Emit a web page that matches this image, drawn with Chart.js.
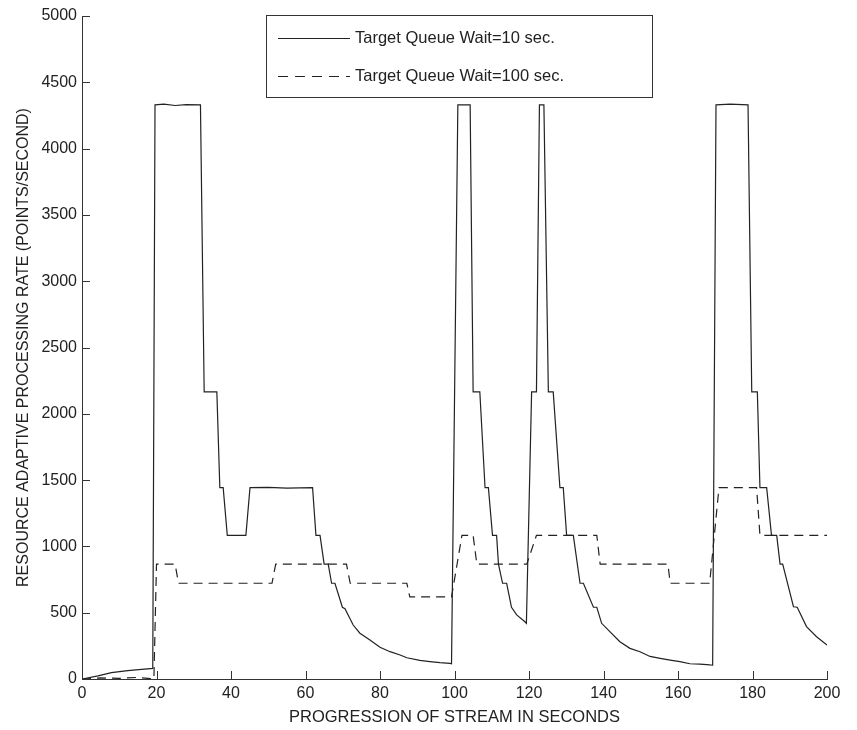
<!DOCTYPE html>
<html><head><meta charset="utf-8">
<script src="https://cdn.jsdelivr.net/npm/chart.js@4.4.1/dist/chart.umd.min.js"></script>
<style>html,body{margin:0;padding:0;background:#fff;}#wrap{width:857px;height:730px;}</style>
</head><body><div id="wrap"><canvas id="c" width="857" height="730"></canvas></div>
<script>
// Series: Target Queue Wait = 10 sec (solid)
const timeS10 = [0, 4.3, 7.9, 12.3, 16, 19.0, 19.6, 22, 25, 28, 31.8, 32.8, 36.2, 37.0, 37.9, 39.0, 44.0, 45.1, 50, 55, 61.9, 62.8, 63.9, 65.0, 66.1, 67.0, 67.9, 69.9, 70.6, 72.8, 74.6, 77.3, 80, 82.7, 85.4, 87.2, 90.7, 93.4, 96.1, 98.8, 99.2,
  100.9, 104.2, 105.0, 106.8, 108.2, 109.1, 110.2, 111.3, 111.8, 112.9, 114.0, 115.3, 116.7, 118.9, 119.3, 120.7, 122.0, 122.8, 124.0, 125.2, 126.5, 128.3, 129.2, 130.1, 131.9, 133.7, 134.6, 137.3, 138.2,
  139.5, 141.7, 144.4, 147.1, 149.8, 152.5, 155.2, 157.9, 160.5, 163.2, 165.9, 168.6, 169.3, 170.2, 174, 178.8, 179.8, 181.3, 182.0, 183.8, 185.1, 186.5, 187.4, 188.1, 191.0, 192.0, 194.5, 197.2, 200];
const rate10 = [0, 23, 48, 63, 72, 80, 4330, 4335, 4325, 4332, 4330, 2165, 2165, 1443, 1443, 1083, 1083, 1443, 1445, 1440, 1443, 1083, 1083, 866, 866, 722, 722, 541, 530, 407, 345, 294, 239, 206, 181, 160, 140, 131, 123, 118, 115,
  4330, 4330, 2165, 2165, 1443, 1443, 1083, 1083, 866, 722, 722, 541, 483, 432, 420, 2165, 2165, 4330, 4330, 2165, 2165, 1443, 1443, 1083, 1083, 722, 722, 541, 541,
  420, 357, 281, 231, 206, 170, 156, 143, 131, 115, 112, 106, 105, 4330, 4335, 4330, 2165, 2165, 1443, 1443, 1083, 1083, 866, 866, 545, 541, 395, 319, 256];
// Series: Target Queue Wait = 100 sec (dashed)
const timeS100 = [0, 5, 10, 15, 19.3, 20.0, 25.0, 25.9, 51.0, 52.0, 71.0, 72.0, 87.2, 88.0, 99.2, 102.0, 105.0, 106.0, 119.4, 122.0, 138.2, 139.1, 157.3, 157.9, 168.5, 171.0, 181.1, 182.0, 200];
const rate100 = [0, 8, 5, 12, 0, 866, 866, 722, 722, 866, 866, 722, 722, 619, 619, 1083, 1083, 866, 866, 1083, 1083, 866, 866, 722, 722, 1443, 1443, 1083, 1083];

const seriesLabels = ['Target Queue Wait=10 sec.', 'Target Queue Wait=100 sec.'];
const xTickValues = [0, 20, 40, 60, 80, 100, 120, 140, 160, 180, 200];
const yTickValues = [0, 500, 1000, 1500, 2000, 2500, 3000, 3500, 4000, 4500, 5000];
const xTitle = 'PROGRESSION OF STREAM IN SECONDS';
const yTitle = 'RESOURCE ADAPTIVE PROCESSING RATE (POINTS/SECOND)';

const FONT = 'Liberation Sans, Arial, Helvetica, sans-serif';
const INK = '#222';

const pts = (xs, ys) => xs.map((x, i) => ({x: x, y: ys[i]}));

const innerTicks = {
  id: 'innerTicks',
  afterDraw(chart) {
    const {ctx, chartArea: ca, scales} = chart;
    ctx.save();
    ctx.strokeStyle = '#333';
    ctx.lineWidth = 1;
    ctx.beginPath();
    scales.x.ticks.forEach(t => {
      const px = Math.round(scales.x.getPixelForValue(t.value)) + 0.5;
      ctx.moveTo(px, ca.bottom); ctx.lineTo(px, ca.bottom - 8);
    });
    scales.y.ticks.forEach(t => {
      const py = Math.round(scales.y.getPixelForValue(t.value)) + 0.5;
      ctx.moveTo(ca.left, py); ctx.lineTo(ca.left + 8, py);
    });
    ctx.stroke();
    ctx.restore();
  }
};

const boxLegend = {
  id: 'boxLegend',
  afterDraw(chart) {
    const ctx = chart.ctx;
    const x0 = 266, y0 = 15, w = 386, h = 82;
    ctx.save();
    ctx.fillStyle = '#fff';
    ctx.fillRect(x0, y0, w, h);
    ctx.strokeStyle = '#333';
    ctx.lineWidth = 1;
    ctx.strokeRect(x0 + 0.5, y0 + 0.5, w, h);
    ctx.font = '16.5px ' + FONT;
    ctx.textBaseline = 'middle';
    ctx.fillStyle = INK;
    const rows = [38, 76];
    chart.data.datasets.forEach((ds, i) => {
      const y = rows[i] + 0.5;
      ctx.strokeStyle = ds.borderColor;
      ctx.lineWidth = ds.borderWidth;
      ctx.setLineDash(ds.borderDash ? [10, 7] : []);
      ctx.beginPath(); ctx.moveTo(278, y); ctx.lineTo(350, y); ctx.stroke();
      ctx.setLineDash([]);
      ctx.fillText(ds.label, 355, rows[i]);
    });
    ctx.restore();
  }
};

new Chart(document.getElementById('c'), {
  type: 'line',
  data: {
    datasets: [
      {label: seriesLabels[0], data: pts(timeS10, rate10), borderColor: '#222', borderWidth: 1.2, pointRadius: 0, tension: 0, fill: false},
      {label: seriesLabels[1], data: pts(timeS100, rate100), borderColor: '#222', borderWidth: 1.2, borderDash: [9, 6], pointRadius: 0, tension: 0, fill: false}
    ]
  },
  options: {
    responsive: false, animation: false, devicePixelRatio: 1,
    layout: {padding: {top: 16, right: 30, bottom: 0, left: 0}},
    plugins: {legend: {display: false}, tooltip: {enabled: false}},
    scales: {
      x: {
        type: 'linear', min: 0, max: 200,
        afterBuildTicks: s => { s.ticks = xTickValues.map(v => ({value: v})); },
        afterFit: s => { s.height = 51; },
        grid: {display: false, drawTicks: false},
        border: {display: true, color: '#333', width: 1},
        ticks: {color: INK, font: {family: FONT, size: 16}, padding: 5, maxRotation: 0, autoSkip: false, callback: v => String(v)},
        title: {display: true, text: xTitle, color: INK, font: {family: FONT, size: 16.5}, padding: {top: 0, bottom: 3}}
      },
      y: {
        type: 'linear', min: 0, max: 5000,
        afterBuildTicks: s => { s.ticks = yTickValues.map(v => ({value: v})); },
        afterFit: s => { s.width = 82; },
        grid: {display: false, drawTicks: false},
        border: {display: true, color: '#333', width: 1},
        ticks: {color: INK, font: {family: FONT, size: 16}, padding: 5, autoSkip: false, callback: v => String(v)},
        title: {display: true, text: yTitle, color: INK, font: {family: FONT, size: 16}, padding: {top: 14, bottom: 0}}
      }
    }
  },
  plugins: [innerTicks, boxLegend]
});
</script></body></html>
